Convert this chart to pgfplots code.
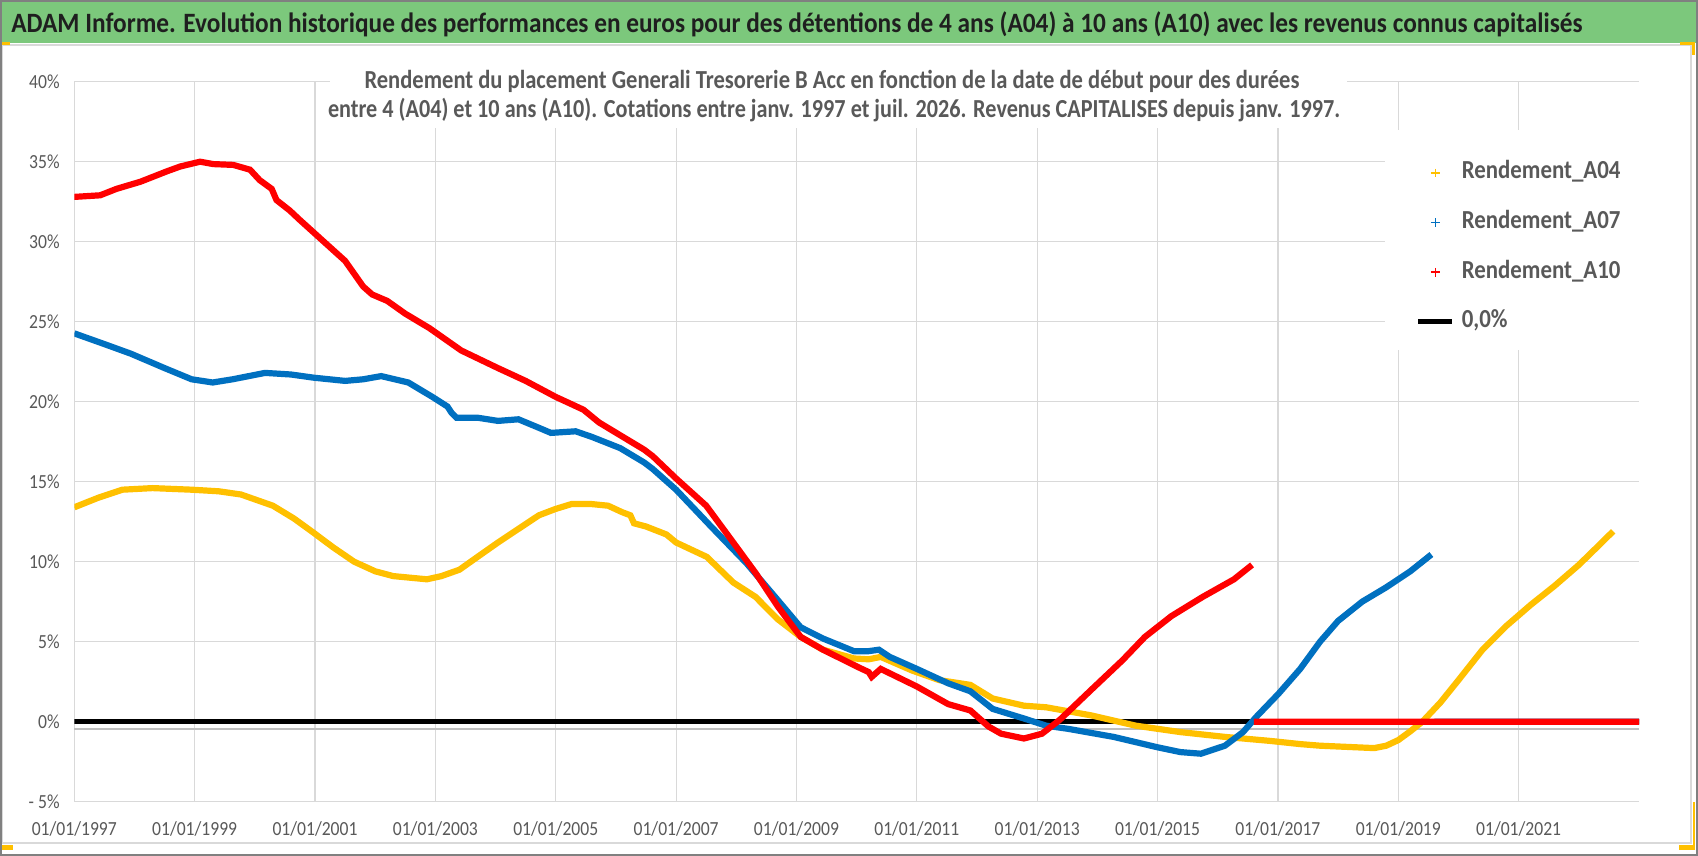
\documentclass[border=0pt]{standalone}
\usepackage{fontspec}
\setmainfont{Carlito}
\usepackage{graphicx}
\usepackage{pgfplots}
\pgfplotsset{compat=1.18}
\definecolor{ttl}{RGB}{124,200,124}
\definecolor{txtg}{RGB}{89,89,89}
\definecolor{gridc}{RGB}{217,217,217}
\definecolor{axc}{RGB}{191,191,191}
\definecolor{ya}{RGB}{255,192,0}
\definecolor{bl}{RGB}{0,112,192}
\definecolor{rd}{RGB}{255,0,0}
\definecolor{frm}{RGB}{128,128,128}
\newcommand\sq[1]{\scalebox{0.88}[1]{#1}}
\newcommand\lsq[1]{\scalebox{0.88}[1]{#1}}
\pgfplotsset{plusleg/.style={legend image code/.code={\draw[#1, line width=0.7bp, mark=+, mark size=2.2bp, only marks] plot coordinates {(0.3cm,0cm)};}}}

\pgfplotstableread{
x y
1997.00 13.4
1997.40 14.0
1997.80 14.5
1998.30 14.6
1998.95 14.5
1999.40 14.4
1999.77 14.2
2000.30 13.5
2000.65 12.7
2000.98 11.8
2001.30 10.9
2001.65 10.0
2002.00 9.4
2002.30 9.1
2002.86 8.9
2003.10 9.1
2003.40 9.5
2003.70 10.3
2004.04 11.2
2004.40 12.1
2004.72 12.9
2005.00 13.3
2005.26 13.6
2005.60 13.6
2005.87 13.5
2006.10 13.1
2006.24 12.9
2006.30 12.4
2006.50 12.2
2006.84 11.7
2007.00 11.2
2007.51 10.3
2007.95 8.7
2008.32 7.8
2008.69 6.4
2009.07 5.3
2009.44 4.5
2009.96 3.95
2010.20 3.9
2010.40 4.05
2010.92 3.2
2011.37 2.6
2011.89 2.3
2012.26 1.45
2012.78 1.0
2013.15 0.9
2013.89 0.4
2014.64 -0.25
2015.38 -0.65
2016.12 -0.95
2016.87 -1.2
2017.37 -1.4
2017.70 -1.5
2018.00 -1.55
2018.30 -1.6
2018.60 -1.65
2018.80 -1.5
2019.00 -1.15
2019.20 -0.6
2019.40 0.0
2019.70 1.2
2020.00 2.6
2020.40 4.5
2020.80 6.0
2021.20 7.3
2021.60 8.5
2022.00 9.8
2022.30 10.9
2022.57 11.9
}\tAfour

\pgfplotstableread{
x y
1997.00 24.27
1997.50 23.6
1997.94 23.0
1998.50 22.1
1998.95 21.4
1999.30 21.2
1999.63 21.4
2000.17 21.8
2000.60 21.7
2000.98 21.5
2001.50 21.3
2001.80 21.4
2002.10 21.6
2002.55 21.2
2002.95 20.3
2003.20 19.7
2003.27 19.3
2003.35 19.0
2003.70 19.0
2004.04 18.8
2004.38 18.9
2004.70 18.4
2004.92 18.05
2005.33 18.15
2005.60 17.8
2006.07 17.1
2006.47 16.2
2006.61 15.8
2007.00 14.5
2007.58 12.2
2008.17 9.9
2008.69 7.6
2009.07 5.9
2009.44 5.2
2009.96 4.4
2010.18 4.4
2010.37 4.5
2010.55 4.05
2011.00 3.3
2011.52 2.4
2011.89 1.9
2012.26 0.8
2012.78 0.2
2013.15 -0.25
2013.52 -0.45
2014.27 -0.95
2015.00 -1.6
2015.38 -1.9
2015.72 -2.0
2016.12 -1.5
2016.42 -0.65
2016.64 0.3
2017.01 1.75
2017.37 3.3
2017.70 5.0
2018.00 6.3
2018.40 7.5
2018.80 8.4
2019.20 9.4
2019.55 10.45
2019.60 nan
2019.60 0
2023.00 0
}\tAseven

\pgfplotstableread{
x y
1997.00 32.8
1997.43 32.9
1997.70 33.3
1998.10 33.75
1998.54 34.4
1998.76 34.7
1999.09 35.0
1999.31 34.85
1999.64 34.8
1999.92 34.5
2000.08 33.85
2000.28 33.3
2000.36 32.6
2000.58 31.95
2000.75 31.35
2001.00 30.5
2001.50 28.8
2001.80 27.2
2001.95 26.7
2002.20 26.3
2002.50 25.5
2002.90 24.6
2003.43 23.2
2004.04 22.1
2004.50 21.3
2005.00 20.3
2005.46 19.5
2005.72 18.7
2005.94 18.2
2006.47 17.0
2006.61 16.6
2007.00 15.2
2007.50 13.5
2007.95 11.2
2008.32 9.3
2008.69 7.2
2009.07 5.3
2009.44 4.5
2010.03 3.4
2010.20 3.1
2010.25 2.8
2010.40 3.3
2011.00 2.2
2011.52 1.1
2011.89 0.7
2012.19 -0.3
2012.40 -0.75
2012.78 -1.05
2013.08 -0.75
2013.37 0.1
2013.90 2.0
2014.42 3.85
2014.79 5.3
2015.23 6.6
2015.75 7.8
2016.27 8.9
2016.57 9.8
2016.60 nan
2016.60 0
2023.00 0
}\tAten

\begin{document}
\begin{tikzpicture}
\useasboundingbox (0,0) rectangle (849bp,428bp);
\fill[white] (0,0) rectangle (849bp,428bp);
\fill[ttl] (0.8bp,406.5bp) rectangle (848.2bp,427.6bp);
\draw[gridc, line width=0.8bp] (1.2bp,6.5bp) rectangle (845.5bp,405.5bp);
\begin{axis}[
  at={(37.15bp,27.15bp)}, anchor=south west, scale only axis,
  width=782.35bp, height=360bp,
  xmin=1997, xmax=2023, ymin=-5, ymax=40,
  xtick={1997,1999,...,2021},
  xticklabels={\sq{01/01/1997},\sq{01/01/1999},\sq{01/01/2001},\sq{01/01/2003},\sq{01/01/2005},\sq{01/01/2007},\sq{01/01/2009},\sq{01/01/2011},\sq{01/01/2013},\sq{01/01/2015},\sq{01/01/2017},\sq{01/01/2019},\sq{01/01/2021}},
  ytick={-5,0,5,10,15,20,25,30,35,40},
  yticklabels={\sq{- 5\%},\sq{0\%},\sq{5\%},\sq{10\%},\sq{15\%},\sq{20\%},\sq{25\%},\sq{30\%},\sq{35\%},\sq{40\%}},
  axis line style={draw=none},
  major tick length=0pt,
  grid=major,
  grid style={gridc, line width=0.6bp},
  tick label style={font=\fontsize{10bp}{11bp}\selectfont, text=txtg},
  xticklabel style={anchor=center, yshift=-13.65bp},
  yticklabel style={anchor=east, inner sep=0pt, xshift=-7.15bp},
  extra y ticks={-0.46}, extra y tick labels={},
  extra y tick style={grid=major, major grid style={axc, line width=0.8bp}},
  unbounded coords=jump,
  legend style={at={(0.8575,0.8899)}, anchor=north west, draw=none, fill=none,
    inner sep=0pt, outer sep=0pt,
    font=\bfseries\fontsize{13bp}{15bp}\selectfont, text=txtg, row sep=12.8bp,
    nodes={text height=9bp, text depth=3bp, inner ysep=0pt, inner xsep=3.5bp}},
  legend cell align=left,
]
\fill[white] (rel axis cs:0.8377,0.6274) rectangle (rel axis cs:1.0,0.9329);
\addplot[black, line width=2.35bp, line cap=round, forget plot] coordinates {(1997,0) (2023,0)};
\addplot[ya, line width=3.1bp, plusleg=ya] table[x=x, y=y] {\tAfour};
\addlegendentry{\lsq{Rendement\_A04}}
\addplot[bl, line width=3.1bp, plusleg=bl] table[x=x, y=y] {\tAseven};
\addlegendentry{\lsq{Rendement\_A07}}
\addplot[rd, line width=3.1bp, plusleg=rd] table[x=x, y=y] {\tAten};
\addlegendentry{\lsq{Rendement\_A10}}
\addlegendimage{black, line width=2.35bp}
\addlegendentry{\lsq{0,0\%}}
\end{axis}
\fill[white] (165bp,364bp) rectangle (673.5bp,397bp);
\node[anchor=base, inner sep=0pt, text=txtg, font=\bfseries\fontsize{13bp}{15bp}\selectfont] at (416bp,383.5bp)
  {\resizebox{467.5bp}{\height}{Rendement du placement Generali Tresorerie B Acc en fonction de la date de début pour des durées}};
\node[anchor=base, inner sep=0pt, text=txtg, font=\bfseries\fontsize{13bp}{15bp}\selectfont] at (417bp,369bp)
  {\resizebox{506bp}{\height}{entre 4 (A04) et 10 ans (A10). Cotations entre janv. 1997 et juil. 2026. Revenus CAPITALISES depuis janv. 1997.}};
\node[anchor=base west, inner sep=0pt, text={black!88}, font=\bfseries\fontsize{14bp}{16bp}\selectfont] at (5.5bp,411.5bp)
  {\resizebox{785.5bp}{\height}{ADAM Informe. Evolution historique des performances en euros pour des détentions de 4 ans (A04) à 10 ans (A10) avec les revenus connus capitalisés}};
\fill[ya] (0,405.5bp) rectangle (5bp,407bp);
\fill[ya] (0,3bp) rectangle (6.5bp,5.5bp);
\fill[ya] (840bp,405.5bp) rectangle (847.5bp,407bp);
\fill[ya] (846bp,400.5bp) rectangle (847.5bp,407bp);
\fill[ya] (846.3bp,3bp) rectangle (847.6bp,27.15bp);
\fill[ya] (839.5bp,3bp) rectangle (847.5bp,5.5bp);
\draw[frm, line width=0.8bp] (0.4bp,0.4bp) rectangle (848.6bp,427.6bp);
\end{tikzpicture}
\end{document}
